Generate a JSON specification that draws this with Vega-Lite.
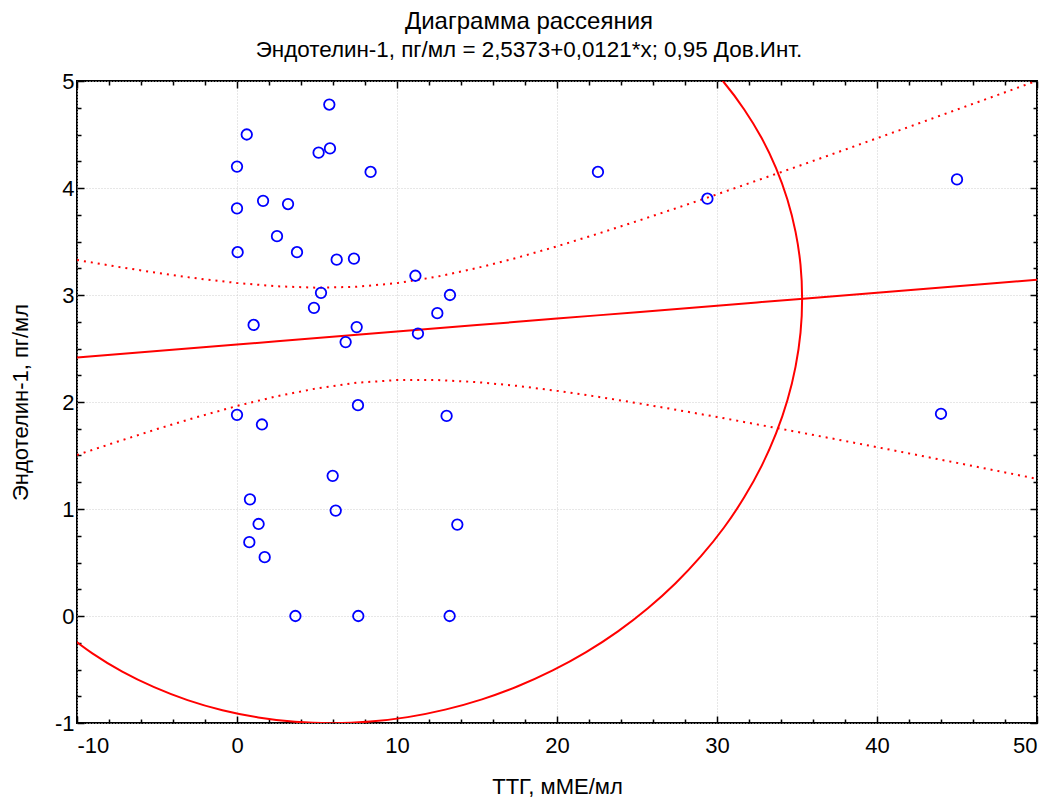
{
  "$schema": "https://vega.github.io/schema/vega-lite/v6.json",
  "width": 960,
  "height": 642,
  "autosize": {"type": "none"},
  "padding": {"left": 77, "top": 81, "right": 16, "bottom": 75},
  "background": "white",
  "config": {
    "font": "Liberation Sans",
    "view": {"stroke": "black", "strokeWidth": 2},
    "axis": {"labelFont": "Liberation Sans", "titleFont": "Liberation Sans", "labelColor": "black", "titleColor": "black", "titleFontWeight": "normal", "tickColor": "black", "domain": false}
  },
  "title": {
    "text": "Диаграмма рассеяния",
    "subtitle": "Эндотелин-1, пг/мл = 2,5373+0,0121*x; 0,95 Дов.Инт.",
    "fontSize": 24,
    "subtitleFontSize": 22.4,
    "font": "Liberation Sans",
    "subtitleFont": "Liberation Sans",
    "fontWeight": "normal",
    "color": "black",
    "subtitleColor": "black",
    "subtitlePadding": 5,
    "anchor": "middle",
    "dx": -28,
    "offset": 9
  },
  "datasets": {
    "points": [
      {"x": 5.77, "y": 4.78}, {"x": 0.61, "y": 4.50}, {"x": 5.10, "y": 4.33}, {"x": 5.81, "y": 4.37},
      {"x": 0.0, "y": 4.20}, {"x": 8.35, "y": 4.15}, {"x": 1.63, "y": 3.88}, {"x": 3.19, "y": 3.85},
      {"x": 0.0, "y": 3.81}, {"x": 2.5, "y": 3.55}, {"x": 0.04, "y": 3.40}, {"x": 3.75, "y": 3.40},
      {"x": 6.23, "y": 3.33}, {"x": 7.31, "y": 3.34}, {"x": 11.15, "y": 3.18}, {"x": 5.25, "y": 3.02},
      {"x": 13.31, "y": 3.00}, {"x": 4.81, "y": 2.88}, {"x": 12.52, "y": 2.83}, {"x": 1.04, "y": 2.72},
      {"x": 7.48, "y": 2.70}, {"x": 6.79, "y": 2.56}, {"x": 11.31, "y": 2.64}, {"x": 0.0, "y": 1.88},
      {"x": 1.56, "y": 1.79}, {"x": 7.56, "y": 1.97}, {"x": 13.1, "y": 1.87}, {"x": 5.98, "y": 1.31},
      {"x": 0.81, "y": 1.09}, {"x": 6.17, "y": 0.985}, {"x": 1.35, "y": 0.86}, {"x": 13.77, "y": 0.854},
      {"x": 0.77, "y": 0.69}, {"x": 1.73, "y": 0.55}, {"x": 3.65, "y": 0.0}, {"x": 7.58, "y": 0.0},
      {"x": 13.29, "y": 0.0}, {"x": 22.56, "y": 4.15}, {"x": 29.4, "y": 3.90}, {"x": 45.0, "y": 4.08},
      {"x": 44.0, "y": 1.89}
    ],
    "fit": [
      {"x": -10, "fit": 2.4163, "hi": 3.327, "lo": 1.505},
      {"x": -7.5, "fit": 2.4466, "hi": 3.265, "lo": 1.628},
      {"x": -5, "fit": 2.4768, "hi": 3.207, "lo": 1.747},
      {"x": -2.5, "fit": 2.5071, "hi": 3.155, "lo": 1.859},
      {"x": 0, "fit": 2.5373, "hi": 3.112, "lo": 1.963},
      {"x": 2.5, "fit": 2.5676, "hi": 3.081, "lo": 2.054},
      {"x": 5, "fit": 2.5978, "hi": 3.068, "lo": 2.128},
      {"x": 7.5, "fit": 2.6281, "hi": 3.077, "lo": 2.180},
      {"x": 10, "fit": 2.6583, "hi": 3.111, "lo": 2.205},
      {"x": 12.5, "fit": 2.6886, "hi": 3.171, "lo": 2.206},
      {"x": 15, "fit": 2.7188, "hi": 3.252, "lo": 2.186},
      {"x": 17.5, "fit": 2.7491, "hi": 3.348, "lo": 2.151},
      {"x": 20, "fit": 2.7793, "hi": 3.455, "lo": 2.104},
      {"x": 22.5, "fit": 2.8096, "hi": 3.570, "lo": 2.050},
      {"x": 25, "fit": 2.8398, "hi": 3.690, "lo": 1.990},
      {"x": 27.5, "fit": 2.8701, "hi": 3.814, "lo": 1.926},
      {"x": 30, "fit": 2.9003, "hi": 3.941, "lo": 1.860},
      {"x": 32.5, "fit": 2.9306, "hi": 4.070, "lo": 1.791},
      {"x": 35, "fit": 2.9608, "hi": 4.200, "lo": 1.721},
      {"x": 37.5, "fit": 2.9911, "hi": 4.332, "lo": 1.650},
      {"x": 40, "fit": 3.0213, "hi": 4.465, "lo": 1.578},
      {"x": 42.5, "fit": 3.0516, "hi": 4.598, "lo": 1.505},
      {"x": 45, "fit": 3.0818, "hi": 4.733, "lo": 1.431},
      {"x": 47.5, "fit": 3.1121, "hi": 4.867, "lo": 1.357},
      {"x": 50, "fit": 3.1423, "hi": 5.003, "lo": 1.282}
    ],
    "ellipse": [
      {"i": 0, "x": 29.00, "y": 5.219}, {"i": 1, "x": 30.44, "y": 4.986}, {"i": 2, "x": 31.70, "y": 4.734},
      {"i": 3, "x": 32.79, "y": 4.467}, {"i": 4, "x": 33.69, "y": 4.186}, {"i": 5, "x": 34.40, "y": 3.893},
      {"i": 6, "x": 34.91, "y": 3.590}, {"i": 7, "x": 35.22, "y": 3.281}, {"i": 8, "x": 35.32, "y": 2.966},
      {"i": 9, "x": 35.22, "y": 2.648}, {"i": 10, "x": 34.91, "y": 2.331}, {"i": 11, "x": 34.40, "y": 2.016},
      {"i": 12, "x": 33.69, "y": 1.706}, {"i": 13, "x": 32.79, "y": 1.403}, {"i": 14, "x": 31.70, "y": 1.109},
      {"i": 15, "x": 30.44, "y": 0.827}, {"i": 16, "x": 29.00, "y": 0.559}, {"i": 17, "x": 27.41, "y": 0.306},
      {"i": 18, "x": 25.68, "y": 0.072}, {"i": 19, "x": 23.81, "y": -0.144}, {"i": 20, "x": 21.82, "y": -0.338},
      {"i": 21, "x": 19.73, "y": -0.509}, {"i": 22, "x": 17.55, "y": -0.657}, {"i": 23, "x": 15.31, "y": -0.779},
      {"i": 24, "x": 13.01, "y": -0.875}, {"i": 25, "x": 10.67, "y": -0.945}, {"i": 26, "x": 8.32, "y": -0.987},
      {"i": 27, "x": 5.97, "y": -1.002}, {"i": 28, "x": 3.63, "y": -0.989}, {"i": 29, "x": 1.33, "y": -0.948},
      {"i": 30, "x": -0.91, "y": -0.881}, {"i": 31, "x": -3.09, "y": -0.786}, {"i": 32, "x": -5.18, "y": -0.665},
      {"i": 33, "x": -7.17, "y": -0.520}, {"i": 34, "x": -9.04, "y": -0.349}, {"i": 35, "x": -10.77, "y": -0.157}
    ]
  },
  "resolve": {"axis": {"x": "independent", "y": "independent"}},
  "layer": [
    {
      "data": {"name": "fit"},
      "mark": {"type": "line", "color": "#ff0000", "strokeWidth": 2, "clip": true},
      "encoding": {
        "x": {"field": "x", "type": "quantitative", "scale": {"domain": [-10, 50], "nice": false, "zero": false},
          "axis": {"orient": "bottom", "title": "ТТГ, мМЕ/мл", "titleFontSize": 22, "titlePadding": 20, "labelFontSize": 22, "labelPadding": 19,
            "values": [-10,-8,-6,-4,-2,0,2,4,6,8,10,12,14,16,18,20,22,24,26,28,30,32,34,36,38,40,42,44,46,48,50],
            "labelExpr": "datum.value % 10 === 0 ? datum.value + '' : ''",
            "tickSize": {"condition": {"test": "datum.value % 10 === 0", "value": -7}, "value": -4},
            "tickWidth": 1.5,
            "grid": true, "gridColor": "#cfcfcf", "gridDash": [1, 2],
            "gridOpacity": {"condition": {"test": "datum.value % 10 === 0", "value": 1}, "value": 0}}},
        "y": {"field": "fit", "type": "quantitative", "scale": {"domain": [-1, 5], "nice": false, "zero": false},
          "axis": {"orient": "left", "title": "Эндотелин-1, пг/мл", "titleFontSize": 22, "titlePadding": 22, "labelFontSize": 22, "labelPadding": 10,
            "values": [-1,-0.75,-0.5,-0.25,0,0.25,0.5,0.75,1,1.25,1.5,1.75,2,2.25,2.5,2.75,3,3.25,3.5,3.75,4,4.25,4.5,4.75,5],
            "labelExpr": "datum.value % 1 === 0 ? datum.value + '' : ''",
            "tickSize": {"condition": {"test": "datum.value % 1 === 0", "value": -7}, "value": -4},
            "tickWidth": 1.5,
            "grid": true, "gridColor": "#cfcfcf", "gridDash": [1, 2],
            "gridOpacity": {"condition": {"test": "datum.value % 1 === 0", "value": 1}, "value": 0}}}
      }
    },
    {
      "data": {"name": "fit"},
      "mark": {"type": "line", "color": "#ff0000", "strokeWidth": 2, "strokeDash": [2, 5], "clip": true},
      "encoding": {
        "x": {"field": "x", "type": "quantitative",
          "axis": {"orient": "top", "title": null, "labels": false,
            "values": [-10,-8,-6,-4,-2,0,2,4,6,8,10,12,14,16,18,20,22,24,26,28,30,32,34,36,38,40,42,44,46,48,50],
            "tickSize": {"condition": {"test": "datum.value % 10 === 0", "value": -7}, "value": -4},
            "tickWidth": 1.5, "grid": false}},
        "y": {"field": "hi", "type": "quantitative",
          "axis": {"orient": "right", "title": null, "labels": false,
            "values": [-1,-0.75,-0.5,-0.25,0,0.25,0.5,0.75,1,1.25,1.5,1.75,2,2.25,2.5,2.75,3,3.25,3.5,3.75,4,4.25,4.5,4.75,5],
            "tickSize": {"condition": {"test": "datum.value % 1 === 0", "value": -7}, "value": -4},
            "tickWidth": 1.5, "grid": false}}
      }
    },
    {
      "data": {"name": "fit"},
      "mark": {"type": "line", "color": "#ff0000", "strokeWidth": 2, "strokeDash": [2, 5], "clip": true},
      "encoding": {
        "x": {"field": "x", "type": "quantitative", "axis": null},
        "y": {"field": "lo", "type": "quantitative", "axis": null}
      }
    },
    {
      "data": {"name": "ellipse"},
      "mark": {"type": "line", "color": "#ff0000", "strokeWidth": 2, "clip": true, "interpolate": "catmull-rom"},
      "encoding": {
        "x": {"field": "x", "type": "quantitative", "axis": null},
        "y": {"field": "y", "type": "quantitative", "axis": null},
        "order": {"field": "i", "type": "quantitative"}
      }
    },
    {
      "data": {"name": "points"},
      "mark": {"type": "point", "shape": "circle", "filled": false, "color": "#0000ff", "size": 110, "strokeWidth": 1.8, "opacity": 1, "clip": true},
      "encoding": {
        "x": {"field": "x", "type": "quantitative", "axis": null},
        "y": {"field": "y", "type": "quantitative", "axis": null}
      }
    }
  ]
}
